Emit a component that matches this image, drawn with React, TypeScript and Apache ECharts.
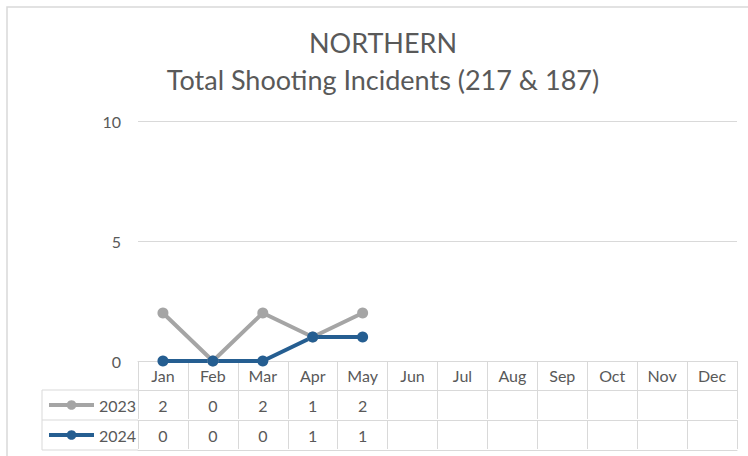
import React, { useEffect, useRef } from "react";
import * as echarts from "echarts";

const months = ["Jan", "Feb", "Mar", "Apr", "May", "Jun", "Jul", "Aug", "Sep", "Oct", "Nov", "Dec"];
const values2023 = [2, 0, 2, 1, 2];
const values2024 = [0, 0, 0, 1, 1];
const seriesNames = ["2023", "2024"];
const titleLines = ["NORTHERN", "Total Shooting Incidents (217 & 187)"];

const FONT = "Lato, 'Liberation Sans', sans-serif";
const TEXT = "#595959";
const GRID = "#d9d9d9";
const GRAY = "#A5A5A5";
const BLUE = "#255E91";
const FS = 16;

export default function App() {
  const ref = useRef<HTMLDivElement>(null);
  useEffect(() => {
    if (!ref.current) return;
    const chart = echarts.init(ref.current, null, { renderer: "svg" });
    const rowAxis = (offset: number, vals: number[] | null, showTick: boolean, margin: number) => ({
      type: "category",
      data: months,
      position: "bottom",
      offset,
      boundaryGap: true,
      axisLine: { show: true, lineStyle: { color: GRID, width: 1 } },
      axisTick: { show: showTick, interval: 0, length: 29, lineStyle: { color: GRID, width: 1 } },
      axisLabel: {
        show: true,
        interval: 0,
        margin,
        color: TEXT,
        fontSize: FS,
        fontFamily: FONT,
        formatter: (v: string, i: number) => {
          if (vals === null) return v;
          return vals[i] === undefined ? "" : String(vals[i]);
        },
      },
      splitLine: { show: false },
    });
    chart.setOption({
      animation: false,
      title: {
        text: titleLines.join("\n"),
        left: 383,
        top: 24,
        textAlign: "center",
        padding: 0,
        textStyle: { fontSize: 27, lineHeight: 37, color: TEXT, fontWeight: "normal", fontFamily: FONT },
      },
      grid: { left: 138, right: 11, top: 121, bottom: 95, containLabel: false },
      legend: {
        orient: "vertical",
        left: 47,
        top: 395,
        padding: 0,
        itemWidth: 45,
        itemHeight: 12,
        itemGap: 10,
        itemTextGap: 0,
        lineStyle: { width: 4 },
        textStyle: { fontSize: FS, color: TEXT, fontFamily: FONT, lineHeight: 20 },
        data: seriesNames,
      },
      xAxis: [
        rowAxis(0, null, true, 6),
        rowAxis(29, values2023, true, 7),
        rowAxis(59, values2024, true, 7),
        { ...rowAxis(89, [], false, 7), axisLabel: { show: false } },
      ],
      yAxis: {
        type: "value",
        min: 0,
        max: 10,
        interval: 5,
        axisLine: { show: false },
        axisTick: { show: false },
        axisLabel: { color: TEXT, fontSize: FS, fontFamily: FONT, margin: 17 },
        splitLine: { lineStyle: { color: GRID, width: 1 } },
      },
      graphic: [
        { type: "rect", shape: { x: 7, y: 7, width: 800, height: 500 }, style: { fill: "none", stroke: GRID, lineWidth: 1.5 }, silent: true },
        { type: "line", shape: { x1: 42, y1: 390, x2: 138, y2: 390 }, style: { stroke: GRID, lineWidth: 1 } },
        { type: "line", shape: { x1: 42, y1: 420, x2: 138, y2: 420 }, style: { stroke: GRID, lineWidth: 1 } },
        { type: "line", shape: { x1: 42, y1: 450, x2: 138, y2: 450 }, style: { stroke: GRID, lineWidth: 1 } },
        { type: "line", shape: { x1: 42, y1: 390, x2: 42, y2: 450 }, style: { stroke: GRID, lineWidth: 1 } },
      ],
      series: [
        {
          name: seriesNames[0],
          type: "line",
          data: values2023,
          symbol: "circle",
          symbolSize: 11,
          lineStyle: { color: GRAY, width: 4 },
          itemStyle: { color: GRAY },
        },
        {
          name: seriesNames[1],
          type: "line",
          data: values2024,
          symbol: "circle",
          symbolSize: 11,
          lineStyle: { color: BLUE, width: 4 },
          itemStyle: { color: BLUE },
        },
      ],
    });
    return () => chart.dispose();
  }, []);
  return <div ref={ref} style={{ position: "fixed", left: 0, top: 0, width: 748, height: 456, background: "#fff" }} />;
}
